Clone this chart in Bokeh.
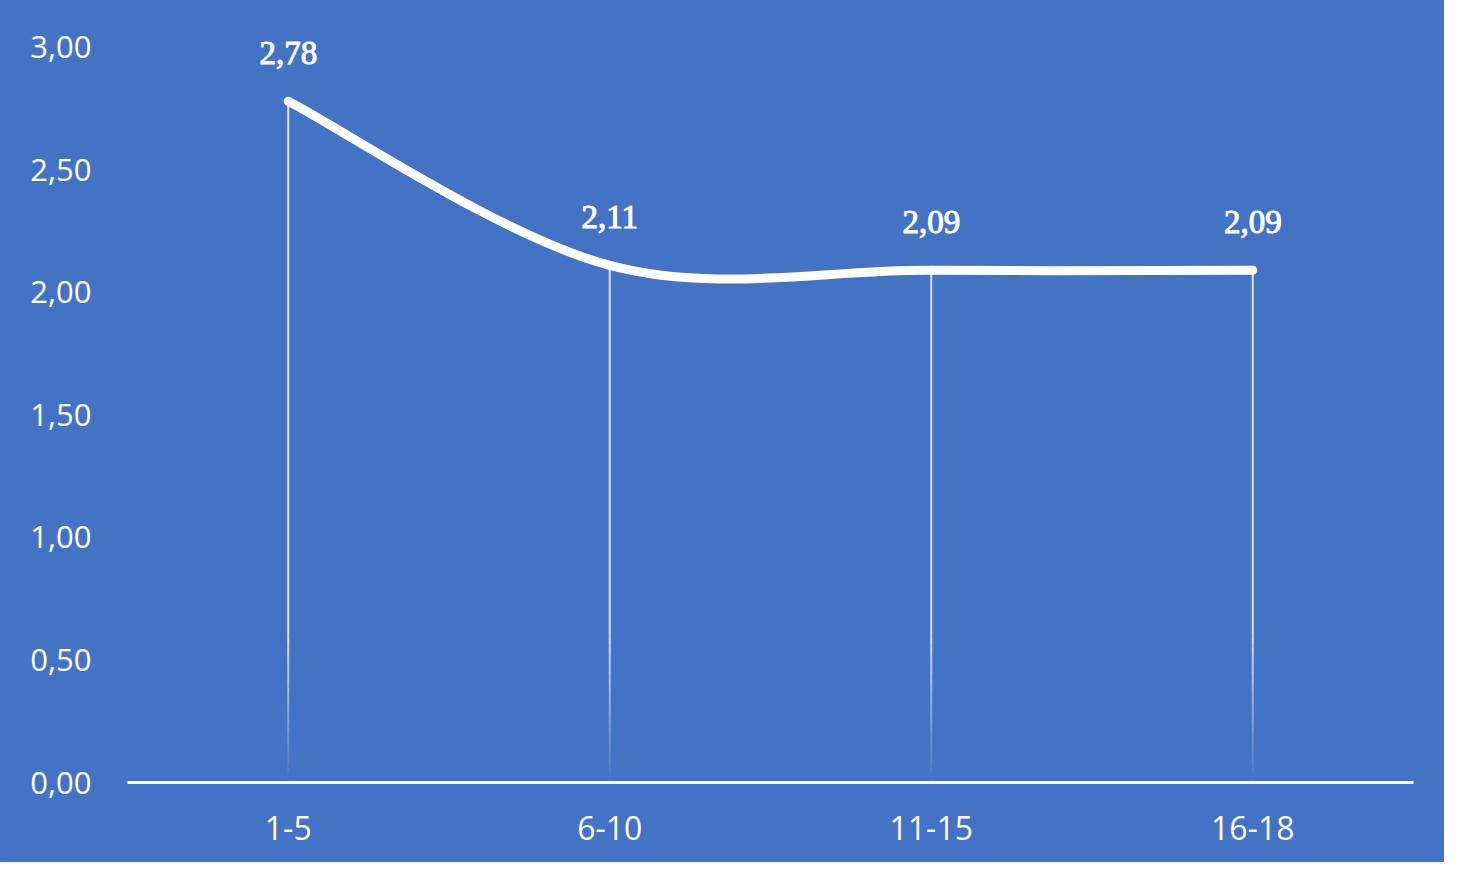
from bokeh.plotting import figure
from bokeh.models import (FactorRange, Range1d, FixedTicker, CustomJSTickFormatter,
                          ColumnDataSource, LabelSet)
from bokeh.embed import file_html
from bokeh.resources import INLINE

categories = ["1-5", "6-10", "11-15", "16-18"]
values = [2.78, 2.11, 2.09, 2.09]
labels = ["2,78", "2,11", "2,09", "2,09"]
y_ticks = [0, 0.5, 1.0, 1.5, 2.0, 2.5, 3.0]

BG = "#4472C4"
FONT = "Open Sans"

p = figure(width=1444, height=862, output_backend="svg", toolbar_location=None,
           x_range=FactorRange(*categories, range_padding=0),
           y_range=Range1d(0, 3.15))
p.styles = {"background-color": BG}
p.background_fill_color = BG
p.border_fill_color = BG
p.outline_line_color = None
p.min_border_left = 127
p.min_border_right = 31
p.min_border_top = 10
p.min_border_bottom = 80
p.xgrid.grid_line_color = None
p.ygrid.grid_line_color = None

# y axis
p.yaxis.ticker = FixedTicker(ticks=y_ticks)
p.yaxis.formatter = CustomJSTickFormatter(code="return tick.toFixed(2).replace('.', ',');")
p.yaxis.axis_line_color = None
p.yaxis.major_tick_line_color = None
p.yaxis.minor_tick_line_color = None
p.yaxis.major_label_text_color = "white"
p.yaxis.major_label_text_font = FONT
p.yaxis.major_label_text_font_size = "31px"
p.yaxis.major_label_standoff = 30

# x axis
p.xaxis.axis_line_color = "white"
p.xaxis.axis_line_width = 3
p.xaxis.major_tick_line_color = None
p.xaxis.minor_tick_line_color = None
p.xaxis.major_label_text_color = "white"
p.xaxis.major_label_text_font = FONT
p.xaxis.major_label_text_font_size = "32px"
p.xaxis.major_label_standoff = 27

# drop lines fading toward the axis
n = len(values)
for c, v in zip(categories, values):
    split = 0.6
    p.segment(x0=[c], y0=[v], x1=[c], y1=[split], line_color="white",
              line_width=2, line_alpha=0.8)
    steps = 15
    for k in range(steps):
        ya = split * (1 - k / steps)
        yb = split * (1 - (k + 1) / steps)
        a = 0.8 * (1 - (k + 0.5) / steps)
        p.segment(x0=[c], y0=[ya], x1=[c], y1=[yb], line_color="white",
                  line_width=2, line_alpha=a)

# smoothed line (Catmull-Rom style bezier, like Excel's smoothed line)
xs = [i + 0.5 for i in range(n)]
pts = list(zip(xs, values))
bx0, by0, bx1, by1, cx0, cy0, cx1, cy1 = [], [], [], [], [], [], [], []
for i in range(n - 1):
    p0 = pts[i - 1] if i > 0 else pts[i]
    p1 = pts[i]
    p2 = pts[i + 1]
    p3 = pts[i + 2] if i + 2 < n else pts[i + 1]
    bx0.append(p1[0]); by0.append(p1[1])
    bx1.append(p2[0]); by1.append(p2[1])
    cx0.append(p1[0] + (p2[0] - p0[0]) / 6); cy0.append(p1[1] + (p2[1] - p0[1]) / 6)
    cx1.append(p2[0] - (p3[0] - p1[0]) / 6); cy1.append(p2[1] - (p3[1] - p1[1]) / 6)
p.bezier(x0=bx0, y0=by0, x1=bx1, y1=by1, cx0=cx0, cy0=cy0, cx1=cx1, cy1=cy1,
         line_color="white", line_width=9, line_cap="round")

src = ColumnDataSource(dict(x=categories, y=values, t=labels))
lbl = LabelSet(x="x", y="y", text="t", source=src, x_offset=0, y_offset=48,
               text_align="center", text_baseline="middle", text_color="white",
               text_font=FONT, text_font_style="normal", text_font_size="33px",
               text_outline_color="white")
p.add_layout(lbl)

open("out.html", "w").write(file_html(p, INLINE))
